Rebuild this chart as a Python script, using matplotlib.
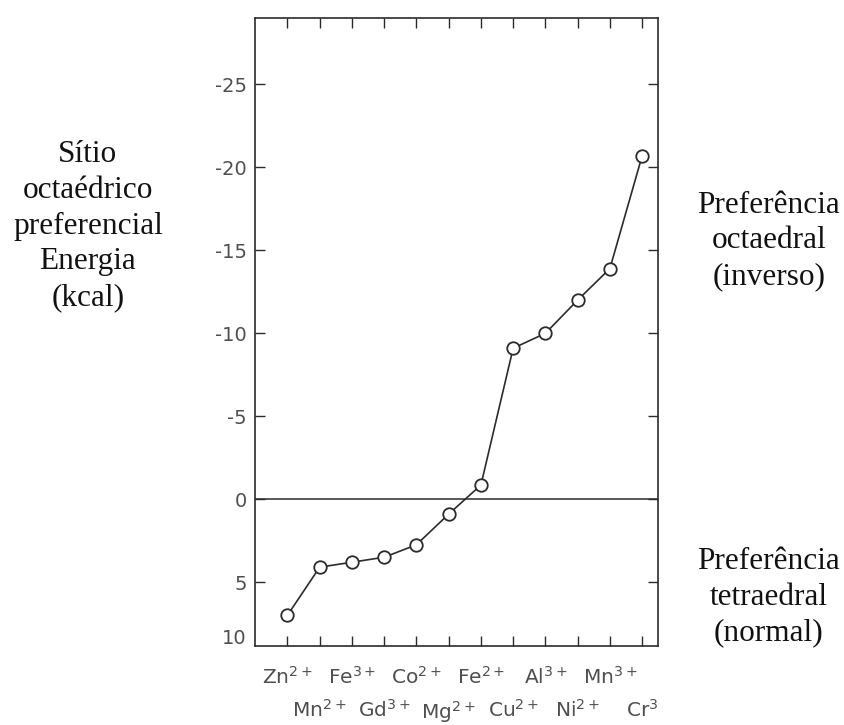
import numpy as np
import matplotlib.pyplot as plt

# ions in order along the x axis (two alternating label rows)
ions = ["Zn$^{2+}$", "Mn$^{2+}$", "Fe$^{3+}$", "Gd$^{3+}$", "Co$^{2+}$", "Mg$^{2+}$",
        "Fe$^{2+}$", "Cu$^{2+}$", "Al$^{3+}$", "Ni$^{2+}$", "Mn$^{3+}$", "Cr$^{3}$"]
# octahedral site preference energy (kcal)
energy = [7.0, 4.1, 3.8, 3.5, 2.75, 0.9, -0.85, -9.1, -10.0, -12.0, -13.9, -20.7]

ytick_vals = [-25, -20, -15, -10, -5, 0, 5, 8.3]
ytick_labels = ["-25", "-20", "-15", "-10", "-5", "0", "5", "10"]

ink = "#2b2b2b"
tick_grey = "#4f4f4f"

fig = plt.figure(figsize=(8.45, 7.25), dpi=100)
ax = fig.add_axes([0.302, 0.109, 0.477, 0.866])

x = np.arange(len(ions))
ax.axhline(0, color=ink, lw=1.1)
ax.plot(x, energy, color=ink, lw=1.2, marker='o', markersize=9,
        markerfacecolor='white', markeredgecolor=ink, markeredgewidth=1.3, zorder=3)

ax.set_xlim(-1.0, 11.5)
ax.set_ylim(8.85, -29)

ax.set_yticks(ytick_vals, ytick_labels)
ax.set_xticks(x, ions)
ax.tick_params(direction='in', top=True, right=True, length=7, width=1.0, color=ink,
               labelcolor=tick_grey)
ax.tick_params(axis='y', pad=6, labelsize=14)
ax.tick_params(axis='x', labelsize=14.5)
ax.yaxis.get_major_ticks()[-1].tick1line.set_visible(False)
ax.yaxis.get_major_ticks()[-1].tick2line.set_visible(False)

for i, t in enumerate(ax.xaxis.get_major_ticks()):
    t.set_pad(14 if i % 2 == 0 else 38)

for s in ax.spines.values():
    s.set_color(ink)
    s.set_linewidth(1.2)

serif = dict(family="Liberation Serif", fontsize=22.5, color="#111111",
             ha='center', va='center', linespacing=1.3)
fig.text(0.104, 0.688, "Sítio\noctaédrico\npreferencial\nEnergia\n(kcal)", **serif)
fig.text(0.91, 0.668, "Preferência\noctaedral\n(inverso)", **serif)
fig.text(0.91, 0.176, "Preferência\ntetraedral\n(normal)", **serif)

fig.savefig("out.png", dpi=100)
